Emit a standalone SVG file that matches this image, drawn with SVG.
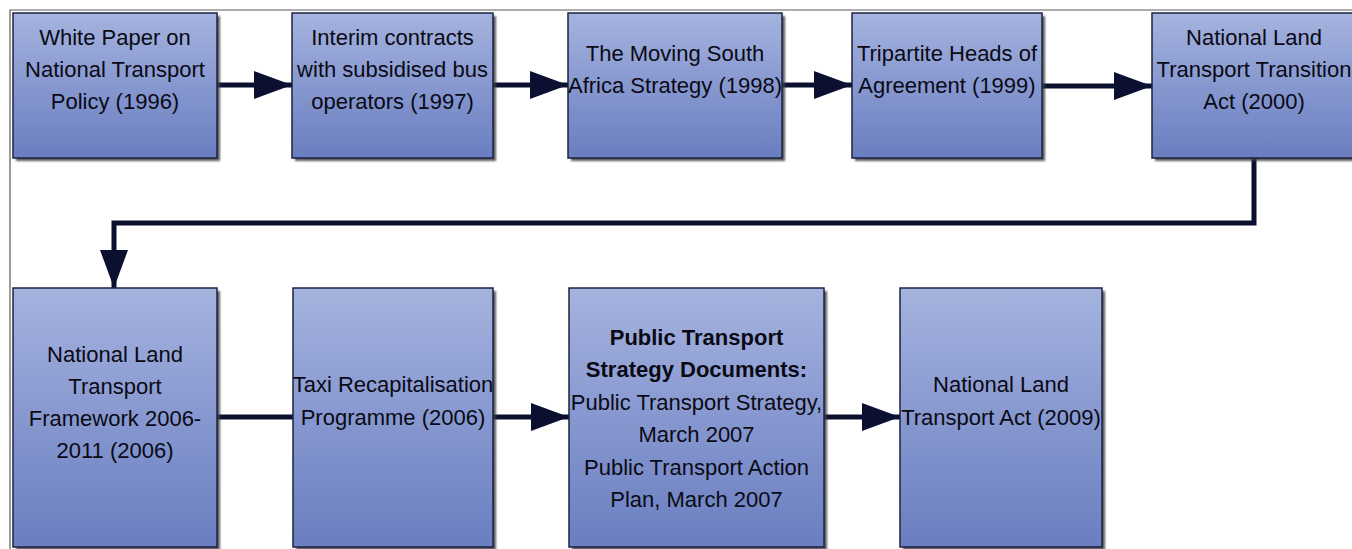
<svg xmlns="http://www.w3.org/2000/svg" width="1352" height="549" viewBox="0 0 1352 549">
<style>
  .box { fill: url(#bg); stroke: #1b2340; stroke-width: 1.5; }
  .shadow { fill: #3c3c44; opacity: 0.85; filter: url(#blur); }
  .t { font-family: "Liberation Sans", Arial, sans-serif; font-size: 22px; fill: #0a0a14; text-anchor: middle; }
  .b { font-weight: bold; }
  .conn { fill: none; stroke: #0c1030; stroke-width: 5; }
  .frame { fill: none; stroke: #5a5a5a; stroke-width: 1.2; }
</style>
<defs>
  <linearGradient id="bg" x1="0" y1="0" x2="0" y2="1">
    <stop offset="0" stop-color="#a5b3de"/>
    <stop offset="0.5" stop-color="#8798d0"/>
    <stop offset="1" stop-color="#6a7ec0"/>
  </linearGradient>
  <filter id="blur" x="-5%" y="-5%" width="110%" height="110%">
    <feGaussianBlur stdDeviation="1"/>
  </filter>
  <marker id="ah" markerUnits="userSpaceOnUse" markerWidth="40" markerHeight="28" refX="38" refY="14" orient="auto">
    <path d="M0,0 L38,14 L0,28 Z" fill="#0c1030"/>
  </marker>
</defs>
<rect width="1352" height="549" fill="#ffffff"/>
<path class="frame" d="M10,549 V10 H1352"/>

<g id="connectors">
  <path class="conn" d="M217,85 H292" marker-end="url(#ah)"/>
  <path class="conn" d="M493,85 H568" marker-end="url(#ah)"/>
  <path class="conn" d="M782,85 H852" marker-end="url(#ah)"/>
  <path class="conn" d="M1042,86 H1152" marker-end="url(#ah)"/>
  <path class="conn" d="M1254,158 V223 H114 V288" marker-end="url(#ah)"/>
  <path class="conn" d="M217,417 H293"/>
  <path class="conn" d="M493,417 H569" marker-end="url(#ah)"/>
  <path class="conn" d="M824,417 H900" marker-end="url(#ah)"/>
</g>

<g id="n1">
  <rect class="shadow" x="16" y="16" width="204" height="145"/>
  <rect class="box" x="13" y="13" width="204" height="145"/>
  <text class="t" x="115" y="45">White Paper on</text>
  <text class="t" x="115" y="77">National Transport</text>
  <text class="t" x="115" y="109">Policy (1996)</text>
</g>
<g id="n2">
  <rect class="shadow" x="295" y="16" width="201" height="145"/>
  <rect class="box" x="292" y="13" width="201" height="145"/>
  <text class="t" x="392.5" y="45">Interim contracts</text>
  <text class="t" x="392.5" y="77">with subsidised bus</text>
  <text class="t" x="392.5" y="109">operators (1997)</text>
</g>
<g id="n3">
  <rect class="shadow" x="571" y="16" width="214" height="145"/>
  <rect class="box" x="568" y="13" width="214" height="145"/>
  <text class="t" x="675" y="61">The Moving South</text>
  <text class="t" x="675" y="93">Africa Strategy (1998)</text>
</g>
<g id="n4">
  <rect class="shadow" x="855" y="16" width="190" height="145"/>
  <rect class="box" x="852" y="13" width="190" height="145"/>
  <text class="t" x="947" y="61">Tripartite Heads of</text>
  <text class="t" x="947" y="93">Agreement (1999)</text>
</g>
<g id="n5">
  <rect class="shadow" x="1155" y="16" width="204" height="145"/>
  <rect class="box" x="1152" y="13" width="204" height="145"/>
  <text class="t" x="1254" y="45">National Land</text>
  <text class="t" x="1254" y="77">Transport Transition</text>
  <text class="t" x="1254" y="109">Act (2000)</text>
</g>

<g id="n6">
  <rect class="shadow" x="16" y="291" width="204" height="259"/>
  <rect class="box" x="13" y="288" width="204" height="259"/>
  <text class="t" x="115" y="362">National Land</text>
  <text class="t" x="115" y="394">Transport</text>
  <text class="t" x="115" y="426">Framework 2006-</text>
  <text class="t" x="115" y="458">2011 (2006)</text>
</g>
<g id="n7">
  <rect class="shadow" x="296" y="291" width="200" height="259"/>
  <rect class="box" x="293" y="288" width="200" height="259"/>
  <text class="t" x="393" y="392">Taxi Recapitalisation</text>
  <text class="t" x="393" y="425">Programme (2006)</text>
</g>
<g id="n8">
  <rect class="shadow" x="572" y="291" width="255" height="259"/>
  <rect class="box" x="569" y="288" width="255" height="259"/>
  <text class="t b" x="696.5" y="345">Public Transport</text>
  <text class="t b" x="696.5" y="377">Strategy Documents:</text>
  <text class="t" x="696.5" y="410">Public Transport Strategy,</text>
  <text class="t" x="696.5" y="442">March 2007</text>
  <text class="t" x="696.5" y="475">Public Transport Action</text>
  <text class="t" x="696.5" y="507">Plan, March 2007</text>
</g>
<g id="n9">
  <rect class="shadow" x="903" y="291" width="202" height="259"/>
  <rect class="box" x="900" y="288" width="202" height="259"/>
  <text class="t" x="1001" y="392">National Land</text>
  <text class="t" x="1001" y="425">Transport Act (2009)</text>
</g>
</svg>
